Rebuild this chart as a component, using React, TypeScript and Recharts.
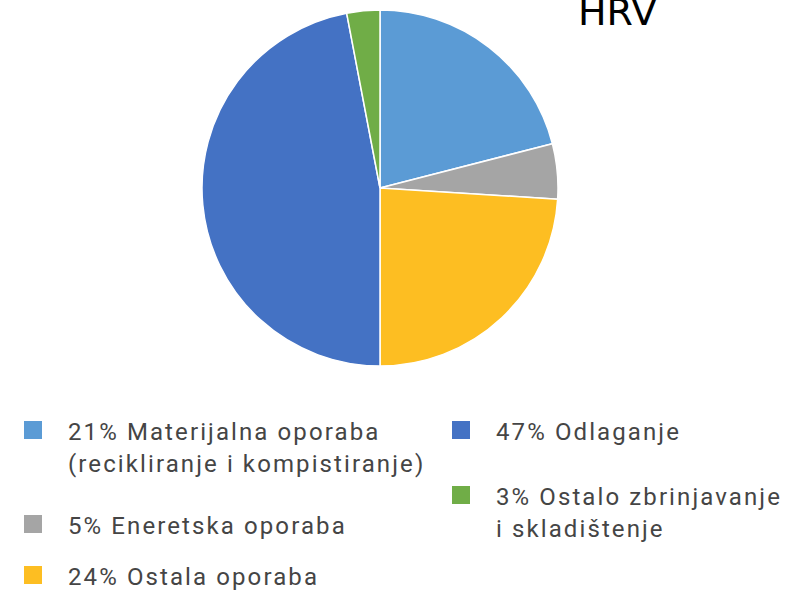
import { Cell, Legend, Pie, PieChart } from "recharts";

const names = [
  "21% Materijalna oporaba\n(recikliranje i kompistiranje)",
  "5% Eneretska oporaba",
  "24% Ostala oporaba",
  "47% Odlaganje",
  "3% Ostalo zbrinjavanje\ni skladištenje",
];
const shares = [21, 5, 24, 47, 3];
const colors = ["#5B9BD5", "#A5A5A5", "#FDBE22", "#4472C4", "#70AD47"];
const leftColumn = [0, 1, 2];
const rightColumn = [3, 4];

const data = names.map((name, i) => ({ name, value: shares[i] }));

// top of each legend entry, in page pixels
const leftTops = [416, 510, 561];
const rightTops = [416, 481];

const textStyle = {
  fontFamily: "Roboto, sans-serif",
  fontSize: 24,
  letterSpacing: 2.1,
  color: "#454545",
  lineHeight: "32px",
  whiteSpace: "pre-line" as const,
};

function LegendColumn({ items, left, tops }: { items: number[]; left: number; tops: number[] }) {
  return (
    <>
      {items.map((i, k) => (
        <div
          key={i}
          style={{ position: "absolute", left, top: tops[k], display: "flex", alignItems: "flex-start" }}
        >
          <span
            style={{
              width: 18,
              height: 18,
              marginTop: 5,
              marginRight: 26,
              background: colors[i],
              flex: "none",
            }}
          />
          <span style={textStyle}>{names[i]}</span>
        </div>
      ))}
    </>
  );
}

function ChartLegend() {
  return (
    <div style={{ position: "relative", width: 800, height: 594 }}>
      <LegendColumn items={leftColumn} left={24} tops={leftTops} />
      <LegendColumn items={rightColumn} left={452} tops={rightTops} />
    </div>
  );
}

export default function App() {
  return (
    <div style={{ position: "absolute", left: 0, top: 0, width: 800, height: 594, background: "#fff" }}>
      <PieChart width={800} height={594} margin={{ top: 0, right: 0, bottom: 0, left: 0 }}>
        <Pie
          data={data}
          dataKey="value"
          nameKey="name"
          cx={380}
          cy={188}
          outerRadius={178}
          startAngle={90}
          endAngle={-270}
          stroke="#fff"
          strokeWidth={1.5}
          isAnimationActive={false}
        >
          {data.map((d, i) => (
            <Cell key={d.name} fill={colors[i]} />
          ))}
        </Pie>
        <Legend
          content={() => <ChartLegend />}
          wrapperStyle={{ position: "absolute", left: 0, top: 0, width: 800, height: 594 }}
        />
      </PieChart>
      <div
        style={{
          position: "absolute",
          left: 578,
          top: -10,
          fontFamily: "DejaVu Sans, sans-serif",
          fontSize: 38,
          lineHeight: "44px",
          color: "#000",
        }}
      >
        HRV
      </div>
    </div>
  );
}
